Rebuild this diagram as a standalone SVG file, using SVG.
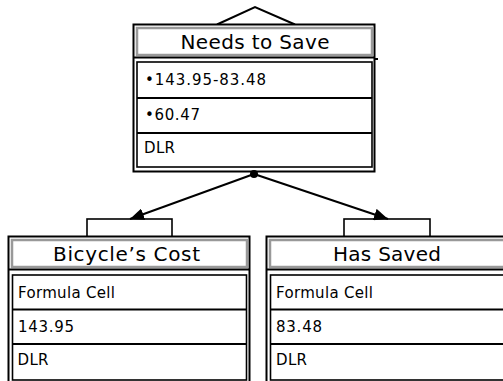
<svg xmlns="http://www.w3.org/2000/svg" width="503" height="381" viewBox="0 0 503 381">
<defs>
<style>
.outer{fill:#fff;stroke:#000;stroke-width:2}
.title{fill:none;stroke:#999;stroke-width:2.5}
.sep{stroke:#000;stroke-width:2}
.rows{fill:none;stroke:#000;stroke-width:1.6}
.div{stroke:#000;stroke-width:2}
.tt{font-family:"DejaVu Sans","Liberation Sans",sans-serif;font-size:20px;fill:#000;text-anchor:middle}
.rt{font-family:"DejaVu Sans","Liberation Sans",sans-serif;font-size:15px;fill:#000}
.conn{stroke:#000;stroke-width:2;fill:none}
.tab{fill:#fff;stroke:#000;stroke-width:1.6}
</style>
<marker id="ah" markerUnits="userSpaceOnUse" markerWidth="14" markerHeight="12" refX="14" refY="6" orient="auto">
<path d="M0,0 L14,6 L0,12 z" fill="#000"/>
</marker>
</defs>
<g id="node-needs">
<polyline class="conn" points="217,24.5 255,7 295,24.5"/>
<rect class="outer" x="133.5" y="24.5" width="241" height="147"/>
<rect class="title" x="137" y="28" width="235" height="27"/>
<line class="sep" x1="134" y1="57.5" x2="374" y2="57.5"/>
<line class="sep" x1="374" y1="59" x2="378" y2="59"/>
<rect class="rows" x="137" y="62" width="235" height="105"/>
<line class="div" x1="137" y1="98" x2="372" y2="98"/>
<line class="div" x1="137" y1="133" x2="372" y2="133"/>
<text class="tt" x="255" y="48.5" textLength="149" lengthAdjust="spacing">Needs to Save</text>
<text class="rt" x="145" y="85" textLength="121" lengthAdjust="spacing">•143.95-83.48</text>
<text class="rt" x="145" y="120" textLength="55" lengthAdjust="spacing">•60.47</text>
<text class="rt" x="144" y="153" textLength="31" lengthAdjust="spacing">DLR</text>
</g>
<g id="node-cost">
<rect class="tab" x="87" y="219" width="85" height="18"/>
<rect class="outer" x="8.5" y="236.5" width="241" height="150"/>
<rect class="title" x="12" y="240" width="235" height="27"/>
<line class="sep" x1="9" y1="269.5" x2="249" y2="269.5"/>
<rect class="rows" x="12.5" y="275" width="234" height="105"/>
<line class="div" x1="12.5" y1="309.5" x2="246.5" y2="309.5"/>
<line class="div" x1="12.5" y1="344" x2="246.5" y2="344"/>
<text class="tt" x="126.5" y="260.5" textLength="147" lengthAdjust="spacing">Bicycle’s Cost</text>
<text class="rt" x="18" y="297.5" textLength="97" lengthAdjust="spacing">Formula Cell</text>
<text class="rt" x="18" y="332" textLength="56" lengthAdjust="spacing">143.95</text>
<text class="rt" x="17.5" y="365" textLength="31" lengthAdjust="spacing">DLR</text>
</g>
<g id="node-saved">
<rect class="tab" x="344" y="219" width="86" height="18"/>
<rect class="outer" x="266.5" y="236.5" width="241" height="150"/>
<rect class="title" x="270" y="240" width="235" height="27"/>
<line class="sep" x1="267" y1="269.5" x2="507" y2="269.5"/>
<rect class="rows" x="270.5" y="275" width="234" height="105"/>
<line class="div" x1="270.5" y1="309.5" x2="504.5" y2="309.5"/>
<line class="div" x1="270.5" y1="344" x2="504.5" y2="344"/>
<text class="tt" x="387" y="260.5" textLength="108" lengthAdjust="spacing">Has Saved</text>
<text class="rt" x="276" y="297.5" textLength="97" lengthAdjust="spacing">Formula Cell</text>
<text class="rt" x="276" y="332" textLength="46" lengthAdjust="spacing">83.48</text>
<text class="rt" x="276" y="365" textLength="31" lengthAdjust="spacing">DLR</text>
</g>
<g id="connectors">
<line class="conn" x1="254" y1="174" x2="130" y2="219" marker-end="url(#ah)"/>
<line class="conn" x1="254" y1="174" x2="388" y2="219" marker-end="url(#ah)"/>
<circle cx="254" cy="174" r="4" fill="#000"/>
</g>
</svg>
